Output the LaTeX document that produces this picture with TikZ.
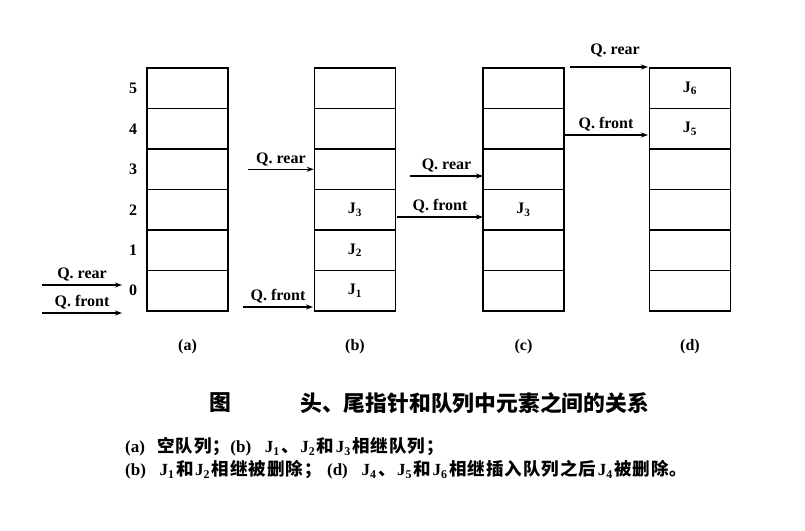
\documentclass[tikz,border=0pt]{standalone}
\usepackage{fontspec}
\setmainfont{Liberation Serif}
\newfontfamily\cjk{Noto Sans CJK SC}
\newfontfamily\cjknote{Noto Sans CJK SC}[LetterSpace=6]
\usetikzlibrary{positioning}
\usetikzlibrary{arrows.meta}

\newcommand{\Jn}[1]{\hspace{1.5pt}{\rmfamily\bfseries\fontsize{17}{17}\selectfont J\textsubscript{#1}}\hspace{1.5pt}}
\newcommand{\tag}[1]{{\rmfamily\bfseries\fontsize{17}{17}\selectfont (#1)}\hspace{0.7em}}

\tikzset{
  cell/.style={draw, line width=1.5pt, minimum width=81pt, minimum height=40.5pt, inner sep=0pt},
  ptr/.style={line width=1.2pt, -{Stealth[length=7pt,width=5pt]}},
  lbl/.style={font=\bfseries\fontsize{16}{16}\selectfont, inner sep=1pt},
  caplbl/.style={font=\bfseries\fontsize{16}{16}\selectfont, inner sep=0pt},
  titlelbl/.style={font=\cjk\bfseries\fontsize{21.8}{22}\selectfont, inner sep=0pt},
  notelbl/.style={font=\cjknote\bfseries\fontsize{17.5}{17.5}\selectfont, inner sep=0pt},
}

\begin{document}
\begin{tikzpicture}[x=1pt, y=-1pt]
\useasboundingbox (0,0) rectangle (805,530);

% the four queues
\foreach \q/\xq in {a/187.5, b/355, c/523.5, d/690}
  \foreach \k in {0,...,5}
    \node[cell] (\q\k) at (\xq, {311-40.5*(\k+0.5)}) {};

% index numbers
\foreach \k in {0,...,5}
  \node[lbl, left=8pt of a\k] (n\k) {\k};

% elements
\node[lbl] (jb1) at (b0) {J\textsubscript{1}};
\node[lbl] (jb2) at (b1) {J\textsubscript{2}};
\node[lbl] (jb3) at (b2) {J\textsubscript{3}};
\node[lbl] (jc3) at (c2) {J\textsubscript{3}};
\node[lbl] (jd5) at (d4) {J\textsubscript{5}};
\node[lbl] (jd6) at (d5) {J\textsubscript{6}};

% pointers
\coordinate (ra0) at (42,285);  \coordinate (ra1) at (122,285);
\coordinate (fa0) at (42,313);  \coordinate (fa1) at (122,313);
\coordinate (rb0) at (248,169.25);
\coordinate (fb0) at (243,307); \coordinate (fb1) at (313,307);
\coordinate (rc0) at (410,176); \coordinate (rc1) at (483,176);
\coordinate (fc0) at (397,217); \coordinate (fc1) at (483,217);
\coordinate (rd0) at (570,67);  \coordinate (rd1) at (648,67);
\coordinate (fd0) at (564,135); \coordinate (fd1) at (648,135);

\draw[ptr] (ra0) -- node[lbl, above=2pt] (rearA) {Q. rear} (ra1);
\draw[ptr] (fa0) -- node[lbl, above=2pt] (frontA) {Q. front} (fa1);
\draw[ptr] (rb0) -- node[lbl, above=2pt] (rearB) {Q. rear} (b3.west);
\draw[ptr] (fb0) -- node[lbl, above=2pt] (frontB) {Q. front} (fb1);
\draw[ptr] (rc0) -- node[lbl, above=2pt] (rearC) {Q. rear} (rc1);
\draw[ptr] (fc0) -- node[lbl, above=2pt] (frontC) {Q. front} (fc1);
\draw[ptr] (rd0) -- node[lbl, above=8pt, xshift=6pt] (rearD) {Q. rear} (rd1);
\draw[ptr] (fd0) -- node[lbl, above=2pt] (frontD) {Q. front} (fd1);

% captions
\node[caplbl, below=27pt of a0] (capA) {(a)};
\node[caplbl, below=27pt of b0] (capB) {(b)};
\node[caplbl, below=27pt of c0] (capC) {(c)};
\node[caplbl, below=27pt of d0] (capD) {(d)};

\node[titlelbl] (figlbl) at (220,403) {图};
\node[titlelbl, anchor=west] (figtitle) at (300,403) {头、尾指针和队列中元素之间的关系};

\node[notelbl, anchor=west] (note1) at (125,447)
  {\tag{a}空队列；\tag{b}\Jn{1}、\Jn{2}和\Jn{3}相继队列；};
\node[notelbl, anchor=west] (note2) at (125,470)
  {\tag{b}\Jn{1}和\Jn{2}相继被删除；\hspace{0.3em}\tag{d}\Jn{4}、\Jn{5}和\Jn{6}相继插入队列之后\Jn{4}被删除。};
\end{tikzpicture}
\end{document}
